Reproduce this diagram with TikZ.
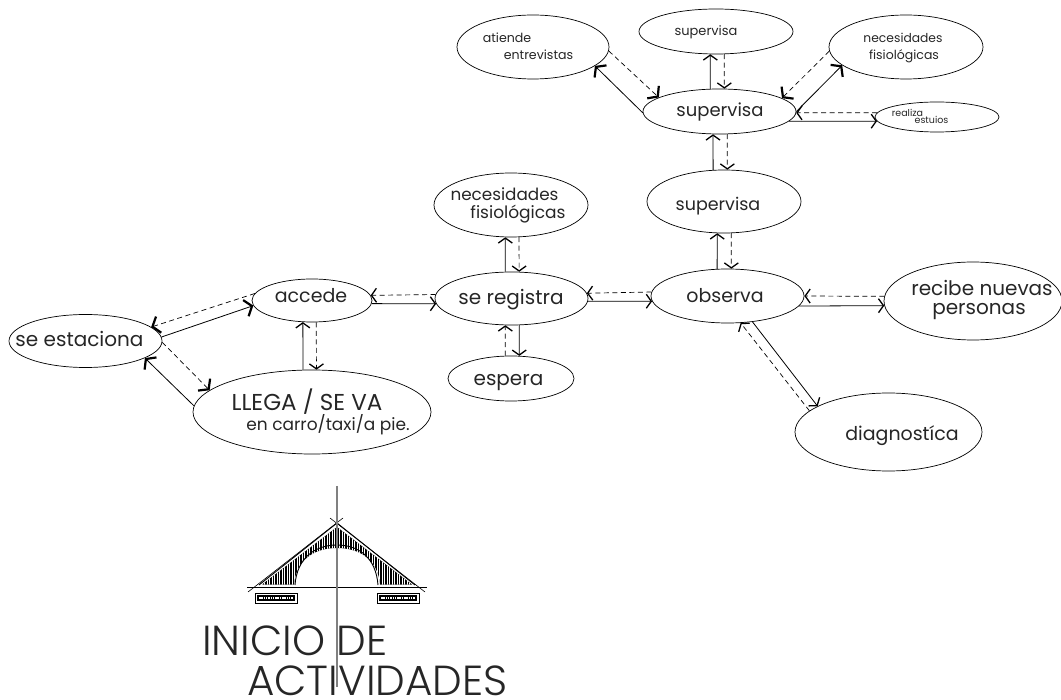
\documentclass[tikz,border=0pt]{standalone}
\usepackage{fontspec}
\setmainfont{Poppins}
\newfontfamily\titlefont[UprightFont=* Light]{Poppins}
\usepackage{xcolor}
\usetikzlibrary{arrows.meta,calc,shapes.geometric}

\tikzset{
    activity/.style={draw, ellipse, inner sep=0pt, line width=0.7pt},
    lbl/.style={inner sep=0pt, anchor=base, text=black!85},
    go/.style={line width=0.8pt, ->},
    back/.style={line width=0.7pt, ->, dash pattern=on 5pt off 3.5pt},
    heavy/.style={>={Straight Barb[length=6.5pt,width=17pt,line width=2.2pt]}},
}

\begin{document}
\begin{tikzpicture}[x=1pt, y=-1pt, >={Straight Barb[length=5pt,width=14pt,line width=1.3pt]}]
    \useasboundingbox (0,0) rectangle (1061,700);

    % Activities
    \node [activity, minimum width=153pt, minimum height=53pt] (estaciona) at (85.5,341) {};
    \node [activity, minimum width=120pt, minimum height=43pt] (accede) at (312,300.5) {};
    \node [activity, minimum width=238pt, minimum height=84pt] (llega) at (312,412) {};
    \node [activity, minimum width=153pt, minimum height=53pt] (registra) at (511.5,298.5) {};
    \node [activity, minimum width=154pt, minimum height=64pt] (necesidades) at (511,205) {};
    \node [activity, minimum width=126pt, minimum height=45pt] (espera) at (511,378.5) {};
    \node [activity, minimum width=153pt, minimum height=54pt] (observa) at (727.5,296) {};
    \node [activity, minimum width=154pt, minimum height=63pt] (supmid) at (724,201.5) {};
    \node [activity, minimum width=178pt, minimum height=78pt] (recibe) at (973,301) {};
    \node [activity, minimum width=187pt, minimum height=78pt] (diagnostica) at (888.5,432) {};
    \node [activity, minimum width=153pt, minimum height=45pt] (supcentral) at (719.5,111.5) {};
    \node [activity, minimum width=154pt, minimum height=45pt] (suptop) at (716,31.5) {};
    \node [activity, minimum width=152pt, minimum height=64pt] (atiende) at (533,47) {};
    \node [activity, minimum width=154pt, minimum height=64pt] (nectop) at (906,47) {};
    \node [activity, minimum width=124pt, minimum height=30pt] (realiza) at (937,117) {};

    % Labels
    \node [lbl, font=\fontsize{20}{20}\selectfont] (estacionatxt) at (79.5,347) {se estaciona};
    \node [lbl, font=\fontsize{19}{19}\selectfont] (accedetxt) at (311,303) {accede};
    \node [lbl, font=\fontsize{23}{23}\selectfont] (llegatxt) at (307,411) {LLEGA / SE VA};
    \node [lbl, font=\fontsize{17}{17}\selectfont] (carrotxt) at (328,431) {en carro/taxi/a pie.};
    \node [lbl, font=\fontsize{20}{20}\selectfont] (registratxt) at (511,305) {se registra};
    \node [lbl, font=\fontsize{16.8}{17}\selectfont] (necesidadestxt) at (504.5,201) {necesidades};
    \node [lbl, font=\fontsize{17}{17}\selectfont] (fisiologicastxt) at (518,219) {fisiológicas};
    \node [lbl, font=\fontsize{20}{20}\selectfont] (esperatxt) at (508.5,386) {espera};
    \node [lbl, font=\fontsize{17.5}{18}\selectfont] (supmidtxt) at (718,211) {supervisa};
    \node [lbl, font=\fontsize{19}{19}\selectfont] (observatxt) at (725,303) {observa};
    \node [lbl, font=\fontsize{20}{20}\selectfont] (recibetxt) at (982,296) {recibe nuevas};
    \node [lbl, font=\fontsize{20}{20}\selectfont] (personastxt) at (979,315) {personas};
    \node [lbl, font=\fontsize{19}{19}\selectfont] (diagnosticatxt) at (902,441) {diagnostíca};
    \node [lbl, font=\fontsize{18}{18}\selectfont] (supcentraltxt) at (720,117) {supervisa};
    \node [lbl, font=\fontsize{13}{13}\selectfont] (suptoptxt) at (706,36) {supervisa};
    \node [lbl, font=\fontsize{12.6}{13}\selectfont] (atiendetxt) at (507,43) {atiende};
    \node [lbl, font=\fontsize{12.6}{13}\selectfont] (entrevistastxt) at (538.5,60) {entrevistas};
    \node [lbl, font=\fontsize{12.3}{13}\selectfont] (nectoptxt) at (903,43) {necesidades};
    \node [lbl, font=\fontsize{12.5}{13}\selectfont] (fistoptxt) at (904,60) {fisiológicas};
    \node [lbl, font=\fontsize{9.5}{10}\selectfont] (realizatxt) at (907.5,117) {realiza};
    \node [lbl, font=\fontsize{9.5}{10}\selectfont] (estuiostxt) at (931.5,124) {estuios};

    % Left group
    \draw [go, heavy] (estaciona.3.7) -- (accede.185.5);
    \draw [back, heavy] (accede.173.5) -- (estaciona.12.6);
    \draw [go, heavy] (llega.177) -- (estaciona.-16.9);
    \draw [back, heavy] (estaciona.-1.5) -- (llega.168.8);
    \draw [go] (llega.102) -- (accede.-113.2);
    \draw [back] (accede.-79.5) -- (llega.84.6);
    \draw [go] (accede.-3.3) -- (registra.184.1);
    \draw [back] (registra.177.4) -- (accede.5.3);

    % Middle group
    \draw [go] (registra.103.8) -- (necesidades.-100.6);
    \draw [back] (necesidades.-76) -- (registra.74.2);
    \draw [back] (espera.104.9) -- (registra.-103.8);
    \draw [go] (registra.-74.2) -- (espera.70.4);
    \draw [go] (registra.-2.6) -- (observa.184.5);
    \draw [back] (observa.177.8) -- (registra.4.2);

    % Right group
    \draw [go] (observa.111.3) -- (supmid.-102.5);
    \draw [back] (supmid.-77.5) -- (observa.82.6);
    \draw [go] (observa.-8.1) -- (recibe.183.3);
    \draw [back] (recibe.177.4) -- (observa.-0.7);
    \draw [go] (observa.-46.3) -- (diagnostica.160.2);
    \draw [back] (diagnostica.165.2) -- (observa.-64);

    % Top group
    \draw [go] (supmid.109.3) -- (supcentral.-106.1);
    \draw [back] (supcentral.-71.6) -- (supmid.84.7);
    \draw [go] (supcentral.112.9) -- (suptop.-104.9);
    \draw [back] (suptop.-70.4) -- (supcentral.78.7);
    \draw [go, heavy] (supcentral.181.1) -- (atiende.-17.3);
    \draw [back, heavy] (atiende.-3.8) -- (supcentral.167.6);
    \draw [go, heavy] (supcentral.-0.4) -- (nectop.196.7);
    \draw [back, heavy] (nectop.183.7) -- (supcentral.12.2);
    \draw [go] (supcentral.-8.5) -- (realiza.184.8);
    \draw [back] (realiza.176.3) -- (supcentral.-1.1);

    % Bridge
    \begin{scope}
        \clip (262,584.5) -- (337,527) -- (412,584.5) -- (380,584.5) .. controls (378,560) and (360,548) .. (337,548) .. controls (314,548) and (296,560) .. (294,584.5) -- cycle;
        \fill [black] (255,520) rectangle (420,590);
        \foreach \hx in {262,264.5,...,414}
            \draw [white, line width=0.9pt] (\hx,520) -- (\hx,590);
    \end{scope}
    \draw [line width=0.9pt] (259,585) -- (337,523) -- (415,585);
    \draw [line width=0.9pt] (295,585) .. controls (297,558) and (315,545) .. (337,545) .. controls (359,545) and (376,558) .. (378,585);
    \draw [line width=0.6pt] (248,592) -- (343,518);
    \draw [line width=0.6pt] (330,518) -- (425,592);
    \draw [line width=0.7pt] (247,587) -- (427,587);
    \draw [black!50, line width=1.1pt] (337,486) -- (337,687);

    % Footings
    \foreach \fx in {255,377} {
        \draw [line width=0.7pt] (\fx,593) rectangle ++(42,10);
        \fill [black] (\fx+2,595) rectangle ++(38,6);
        \draw [white, line width=1.4pt, dash pattern=on 1.5pt off 0.8pt] (\fx+4,598) -- ++(34,0);
    }

    % Title
    \node [lbl, anchor=base west, font=\titlefont\fontsize{42}{42}\selectfont] (iniciotxt) at (202,655) {INICIO DE};
    \node [lbl, anchor=base west, font=\titlefont\fontsize{42}{42}\selectfont] (actividadestxt) at (247,695) {ACTIVIDADES};
\end{tikzpicture}
\end{document}
